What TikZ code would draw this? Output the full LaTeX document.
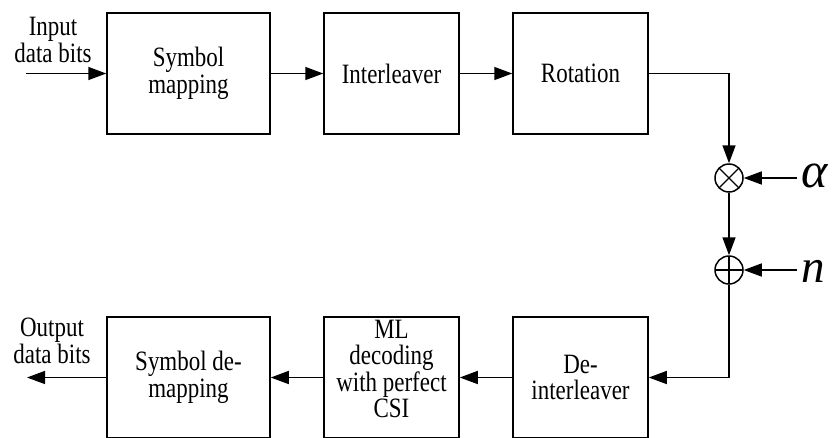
\documentclass[tikz,border=0pt]{standalone}
\usepackage{fontspec}
\setmainfont{Liberation Serif}[FakeStretch=0.82]
\newfontfamily\symfont{Liberation Serif}
\usetikzlibrary{arrows.meta}
\begin{document}
\begin{tikzpicture}[x=1pt,y=-1pt,
  line width=1.5pt,
  blk/.style={draw, minimum width=#1, minimum height=121pt, inner sep=0pt,
    align=center, font=\fontsize{28}{26.5}\selectfont},
  lbl/.style={align=center, inner sep=0pt, font=\fontsize{28}{26.5}\selectfont},
  arr/.style={-{Triangle[length=18pt,width=13pt]}},
  junc/.style={draw, circle, minimum size=28pt, inner sep=0pt},
  mul/.style={junc, path picture={
      \draw[line width=1.1pt] (path picture bounding box.north west) -- (path picture bounding box.south east)
            (path picture bounding box.north east) -- (path picture bounding box.south west);}},
  add/.style={junc, path picture={
      \draw[line width=1.1pt] (path picture bounding box.north) -- (path picture bounding box.south)
            (path picture bounding box.west) -- (path picture bounding box.east);}},
  sym/.style={anchor=base west, inner sep=0pt, font=\fontsize{50}{50}\symfont\itshape}
]
\clip (0,0) rectangle (835,437);
\useasboundingbox (0,0) rectangle (835,437);

% transmitter chain
\node[blk=163pt] (sm)  at (188.5,73.5) {Symbol\\mapping};
\node[blk=135pt] (il)  at (391.5,73.5) {Interleaver};
\node[blk=135pt] (rot) at (580.5,73.5) {Rotation};

% channel: fading and noise
\node[mul] (ot) at (729,178) {};
\node[add] (op) at (729,270) {};
\node[sym] (al) at (801,187) {α};
\node[sym, font=\fontsize{47}{47}\symfont\itshape] (nn) at (801,282) {n};

% receiver chain
\node[blk=135pt] (dei) at (580.5,377.5) {De-\\interleaver};
\node[blk=135pt] (ml)  at (391.5,377.5) {};
\node[lbl] (mlt) at (391.5,369) {ML\\decoding\\with perfect\\CSI};
\node[blk=163pt] (dm)  at (188.5,377.5) {Symbol de-\\mapping};

% input / output labels
\node[lbl] (inl)  at (53,40) {Input\\data bits};
\node[lbl] (outl) at (52,341) {Output\\data bits};
\coordinate (in)  at (26,73.5);
\coordinate (out) at (27,377.5);

% connectors
\draw[arr] (in) -- (sm);
\draw[arr] (sm) -- (il);
\draw[arr] (il) -- (rot);
\draw[arr] (rot.east) -| (ot.north);
\draw[arr] ([xshift=-4pt]ot -| al.west) -- (ot.east);
\draw[arr] (ot.south) -- (op.north);
\draw[arr] ([xshift=-4pt]op -| nn.west) -- (op.east);
\draw[arr] (op.south) |- (dei.east);
\draw[arr] (dei) -- (ml);
\draw[arr] (ml) -- (dm);
\draw[arr] (dm) -- (out);
\end{tikzpicture}
\end{document}
